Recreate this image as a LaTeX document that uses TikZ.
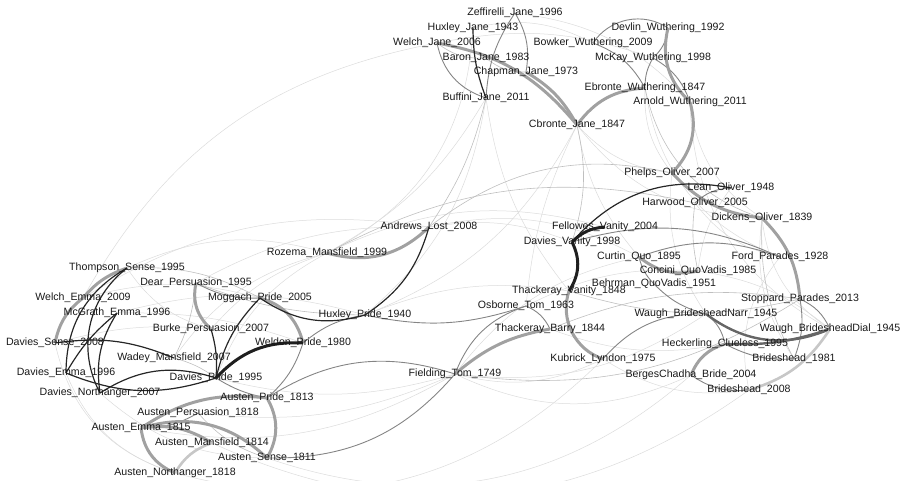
\documentclass[tikz,border=0pt]{standalone}
\usepackage{fontspec}
\setmainfont{Liberation Sans}
\usetikzlibrary{backgrounds}
\tikzset{
  lbl/.style={inner sep=0pt, font=\fontsize{10.6}{12}\selectfont, text=black!90},
  heavy/.style={draw=black!37, line width=3pt},
  heavydk/.style={draw=black!60, line width=2.4pt},
  pale/.style={draw=black!22, line width=2.6pt},
  darker/.style={draw=black!88, line width=3pt},
  dark/.style={draw=black!85, line width=1.2pt},
  mid/.style={draw=black!48, line width=0.9pt},
  light/.style={draw=black!25, line width=0.6pt},
  faint/.style={draw=black!14, line width=0.5pt},
}
\begin{document}
\begin{tikzpicture}[x=1pt, y=-1pt]
  \useasboundingbox (0,0) rectangle (903,481);
  % Jane Eyre and Wuthering Heights
  \node[lbl] (zef) at (515,13)  {Zeffirelli\_Jane\_1996};
  \node[lbl] (hja) at (473,28)  {Huxley\_Jane\_1943};
  \node[lbl] (wja) at (437,43)  {Welch\_Jane\_2006};
  \node[lbl] (bja) at (486,58)  {Baron\_Jane\_1983};
  \node[lbl] (cja) at (526,72)  {Chapman\_Jane\_1973};
  \node[lbl] (fja) at (486,98)  {Buffini\_Jane\_2011};
  \node[lbl] (cbj) at (577,125) {Cbronte\_Jane\_1847};
  \node[lbl] (dwu) at (668,28)  {Devlin\_Wuthering\_1992};
  \node[lbl] (bwu) at (593,43)  {Bowker\_Wuthering\_2009};
  \node[lbl] (mwu) at (653,58)  {McKay\_Wuthering\_1998};
  \node[lbl] (ewu) at (645,88)  {Ebronte\_Wuthering\_1847};
  \node[lbl] (awu) at (690,102) {Arnold\_Wuthering\_2011};
  % Oliver, Vanity, Quo Vadis, Brideshead
  \node[lbl] (pol) at (672,173) {Phelps\_Oliver\_2007};
  \node[lbl] (lol) at (731,188) {Lean\_Oliver\_1948};
  \node[lbl] (hol) at (695,203) {Harwood\_Oliver\_2005};
  \node[lbl] (dol) at (762,218) {Dickens\_Oliver\_1839};
  \node[lbl] (fva) at (605,227) {Fellowes\_Vanity\_2004};
  \node[lbl] (dva) at (572,242) {Davies\_Vanity\_1998};
  \node[lbl] (cqu) at (639,257) {Curtin\_Quo\_1895};
  \node[lbl] (fpa) at (780,257) {Ford\_Parades\_1928};
  \node[lbl] (cqv) at (698,271) {Concini\_QuoVadis\_1985};
  \node[lbl] (bqv) at (654,284) {Behrman\_QuoVadis\_1951};
  \node[lbl] (tva) at (569,291) {Thackeray\_Vanity\_1848};
  \node[lbl] (spa) at (800,299) {Stoppard\_Parades\_2013};
  \node[lbl] (oto) at (526,306) {Osborne\_Tom\_1963};
  \node[lbl] (wbn) at (706,314) {Waugh\_BridesheadNarr\_1945};
  \node[lbl] (tba) at (550,329) {Thackeray\_Barry\_1844};
  \node[lbl] (wbd) at (830,329) {Waugh\_BridesheadDial\_1945};
  \node[lbl] (hcl) at (725,344) {Heckerling\_Clueless\_1995};
  \node[lbl] (kly) at (603,359) {Kubrick\_Lyndon\_1975};
  \node[lbl] (b81) at (794,359) {Brideshead\_1981};
  \node[lbl] (fto) at (455,374) {Fielding\_Tom\_1749};
  \node[lbl] (bcb) at (691,375) {BergesChadha\_Bride\_2004};
  \node[lbl] (b08) at (749,390) {Brideshead\_2008};
  % Austen and the rest
  \node[lbl] (alo) at (429,227) {Andrews\_Lost\_2008};
  \node[lbl] (rma) at (327,253) {Rozema\_Mansfield\_1999};
  \node[lbl] (hpr) at (365,315) {Huxley\_Pride\_1940};
  \node[lbl] (tse) at (127,268) {Thompson\_Sense\_1995};
  \node[lbl] (dpe) at (196,283) {Dear\_Persuasion\_1995};
  \node[lbl] (wem) at (83,298)  {Welch\_Emma\_2009};
  \node[lbl] (mpr) at (260,298) {Moggach\_Pride\_2005};
  \node[lbl] (mem) at (117,313) {McGrath\_Emma\_1996};
  \node[lbl] (bpe) at (211,329) {Burke\_Persuasion\_2007};
  \node[lbl] (dse) at (55,343)  {Davies\_Sense\_2008};
  \node[lbl] (wpr) at (303,343) {Weldon\_Pride\_1980};
  \node[lbl] (wma) at (174,358) {Wadey\_Mansfield\_2007};
  \node[lbl] (dem) at (66,373)  {Davies\_Emma\_1996};
  \node[lbl] (dpr) at (216,378) {Davies\_Pride\_1995};
  \node[lbl] (dno) at (100,393) {Davies\_Northanger\_2007};
  \node[lbl] (apr) at (267,398) {Austen\_Pride\_1813};
  \node[lbl] (ape) at (198,413) {Austen\_Persuasion\_1818};
  \node[lbl] (aem) at (141,428) {Austen\_Emma\_1815};
  \node[lbl] (ama) at (212,443) {Austen\_Mansfield\_1814};
  \node[lbl] (ase) at (267,458) {Austen\_Sense\_1811};
  \node[lbl] (ano) at (175,473) {Austen\_Northanger\_1818};

  \begin{scope}[on background layer]
    % weak ties
    \foreach \a/\b/\c in {wem/wja/25, tse/rma/20, wem/alo/20, dpe/alo/15, mem/hpr/15,
        wma/rma/20, bpe/rma/15, dpr/rma/20, hpr/tva/15, alo/dva/15, alo/cqu/20,
        rma/fva/20, fto/kly/-20, fto/cqu/20, cbj/pol/-20, cbj/cqu/-15, fja/tva/-15,
        zef/awu/20, hja/bwu/20, wja/mwu/15, ewu/pol/-20, awu/dol/-25, dol/b81/-20,
        lol/cqv/-15, pol/wbn/-20, fpa/b08/-25, wbd/dol/25, ewu/fpa/-30,
        ase/bcb/-30, ano/kly/-30, aem/fto/-20, ama/b08/-30, fto/bcb/-25,
        dno/ase/-20, dem/ano/-25, dse/ano/-30, cbj/hpr/20, cbj/oto/-10, fja/rma/15,
        oto/cqv/15, tba/hcl/-15, kly/b08/-20, fto/wbn/-20, dpr/fto/-15, tse/bpe/-20,
        wem/mpr/15, dse/bpe/10, mem/wpr/10, ape/fto/-15, hol/fpa/-20, cqv/wbd/15,
        cbj/dol/-25, awu/wbd/-30, fja/hpr/20, hja/rma/30}
      \draw[faint] (\a.center) to[bend left=\c] (\b.center);
    \foreach \a/\b/\c in {tva/spa/-15, tba/spa/15, rma/hol/20, alo/pol/25, cbj/dva/15,
        dpe/hpr/-10, dol/b81/-15, hol/cqv/-10, ewu/dol/-30, fja/alo/10, wja/bja/-20,
        bja/cja/-20, dpe/wma/10, tse/mpr/15, wma/dpr/10, ape/ase/-15, fto/spa/-20}
      \draw[light] (\a.center) to[bend left=\c] (\b.center);
    % medium ties
    \foreach \a/\b/\c in {bwu/dwu/45, bwu/ewu/20, mwu/awu/20, zef/fja/-15, zef/cja/20,
        wja/fja/-30, fto/oto/25, oto/tba/20, kly/wbn/25, hpr/oto/-15, dpe/mpr/-15,
        wpr/hpr/15, wpr/apr/15, dpr/apr/-10, apr/fto/25, ase/fto/-25, cqu/fpa/20,
        dva/fpa/20, cqu/bqv/-15, bqv/wbn/-15, hcl/b81/-15, bcb/b08/-20, wbn/hcl/20,
        spa/wbd/20, spa/b81/15, ape/aem/15, lol/hol/-20, mwu/ewu/-15, dwu/mwu/20}
      \draw[mid] (\a.center) to[bend left=\c] (\b.center);
    % strong ties
    \foreach \a/\b/\c in {wja/cbj/20, cja/cbj/15, cbj/ewu/25, dwu/awu/-30, awu/pol/30,
        pol/dol/-20, dol/spa/20, bcb/hcl/25, tva/kly/-45, fto/tba/15, rma/alo/-30,
        mpr/wpr/30, apr/ase/30, aem/apr/20, aem/ama/20, aem/ase/30, ano/aem/30,
        dpe/bpe/-30, wem/dse/-20, tse/wem/-15, cqu/cqv/-25}
      \draw[heavy] (\a.center) to[bend left=\c] (\b.center);
    \foreach \a/\b/\c in {wbn/wbd/-30, hcl/wbd/-10}
      \draw[heavydk] (\a.center) to[bend left=\c] (\b.center);
    \foreach \a/\b/\c in {b08/wbd/-20, ama/ano/-20}
      \draw[pale] (\a.center) to[bend left=\c] (\b.center);
    \foreach \a/\b/\c in {alo/hpr/20, mpr/hpr/-25, dpr/mpr/15, bpe/dpr/10, dno/dpr/25,
        dem/dpr/-20, tse/dem/-30, tse/dno/-40, mem/dno/-20, mem/dem/-10, hja/fja/-10,
        dva/lol/30, dse/wma/15}
      \draw[dark] (\a.center) to[bend left=\c] (\b.center);
    \foreach \a/\b/\c in {dpr/wpr/25, dva/tva/30, fva/dva/-20}
      \draw[darker] (\a.center) to[bend left=\c] (\b.center);
  \end{scope}
\end{tikzpicture}
\end{document}
